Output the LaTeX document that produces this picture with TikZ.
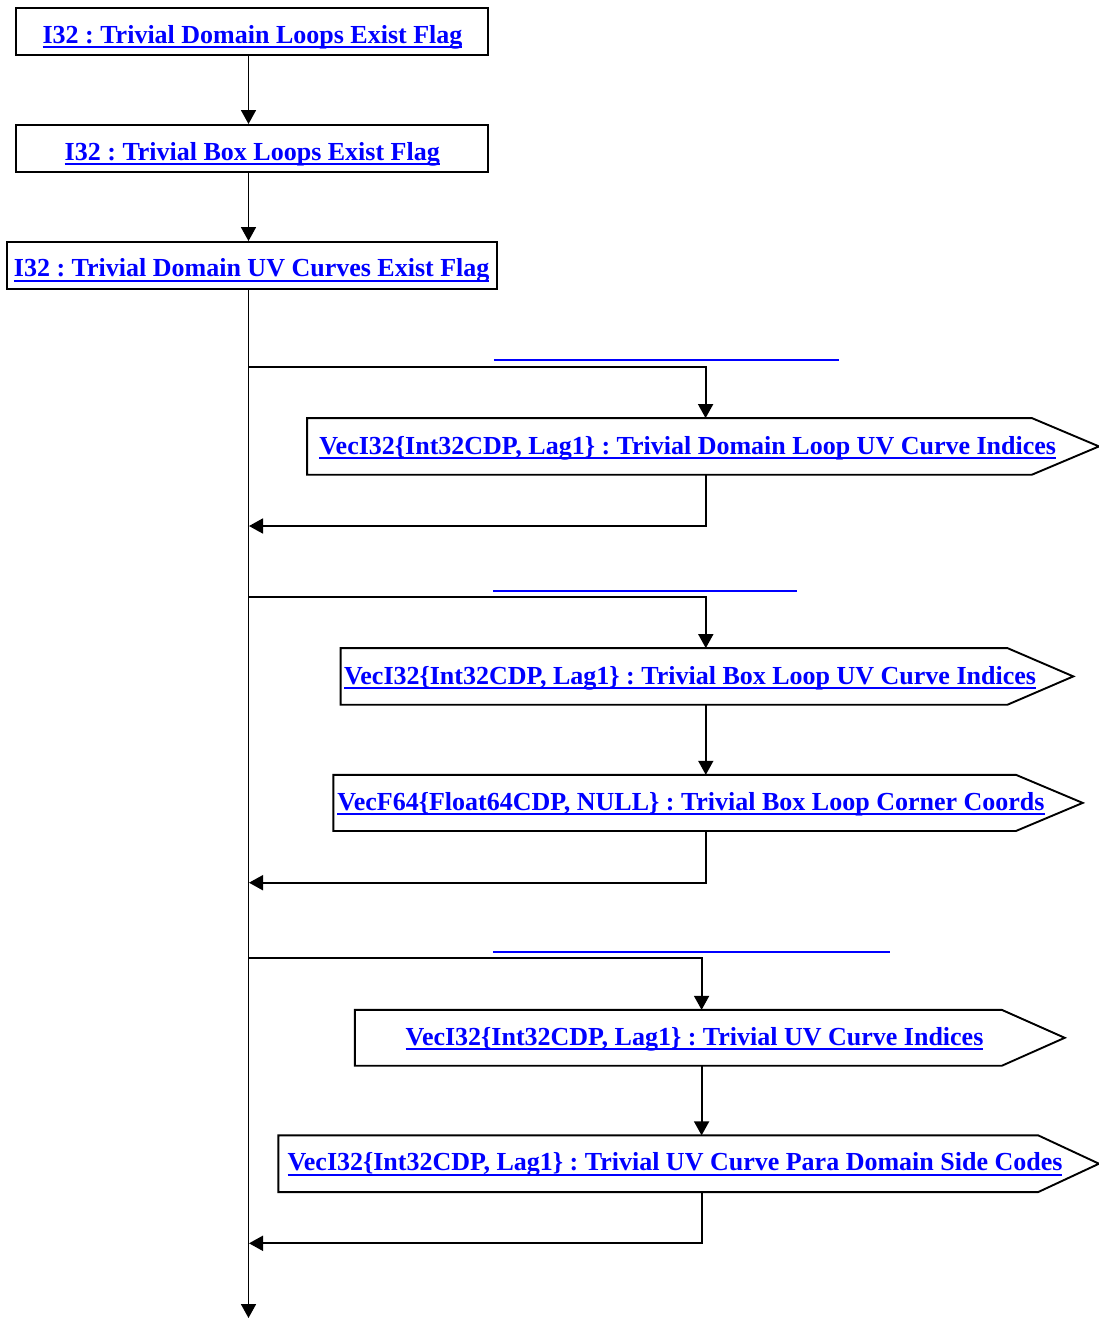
\documentclass[tikz,border=0pt]{standalone}
\usepackage{fontspec}
\setmainfont{Liberation Serif}
\usetikzlibrary{arrows.meta,calc}
\definecolor{lnk}{RGB}{0,0,255}
\frenchspacing
\newsavebox{\ulbox}
\newcommand{\ulink}[1]{\sbox{\ulbox}{#1}\rlap{\raisebox{-4.9pt}{\rule{\wd\ulbox}{2.1pt}}}\usebox{\ulbox}}
\begin{document}
\begin{tikzpicture}[x=1pt,y=-1pt,
  box/.style={draw=black,line width=1.9pt,rectangle,inner sep=0pt,fill=white},
  pshape/.style={draw=black,line width=1.9pt,line join=miter},
  holder/.style={rectangle,inner sep=0pt,draw=none},
  lbl/.style={inner sep=0pt,anchor=base,text=lnk,font=\fontsize{26}{30}\selectfont\bfseries},
  conn/.style={draw=black,line width=1.8pt},
  arr/.style={conn,-{Triangle[length=14pt,width=15pt]}},
  blank/.style={draw=lnk,line width=2.1pt}]
\useasboundingbox (0,0) rectangle (1099,1318);

% top boxes
\node[box,minimum width=471.4pt,minimum height=47.6pt] (b1) at (252,31.5) {};
\node[box,minimum width=471.4pt,minimum height=47.3pt] (b2) at (252,148.6) {};
\node[box,minimum width=490pt,minimum height=47pt] (b3) at (251.7,265.5) {};
\node[lbl] (t1) at (252.5,43.3) {\ulink{I32 : Trivial Domain Loops Exist Flag}};
\node[lbl] (t2) at (252.3,160) {\ulink{I32 : Trivial Box Loops Exist Flag}};
\node[lbl] (t3) at (251.7,276.7) {\ulink{I32 : Trivial Domain UV Curves Exist Flag}};

% trunk coordinates
\coordinate (m) at (248.5,0);
\coordinate (trunkend) at (248.5,1318);
\coordinate (x1) at (705.6,0);
\coordinate (x2) at (705.8,0);
\coordinate (x3) at (701.6,0);

% pentagons (rectangle part as holder nodes)
\node[holder,minimum width=724.4pt,minimum height=56.2pt] (p1) at (669.5,446.4) {};
\coordinate (p1tip) at (1099,446.4);
\node[holder,minimum width=666.5pt,minimum height=56.2pt] (p2) at (674.05,676.4) {};
\coordinate (p2tip) at (1073.3,676.4);
\node[holder,minimum width=682.2pt,minimum height=55.8pt] (p3) at (674.6,802.9) {};
\coordinate (p3tip) at (1082.7,802.9);
\node[holder,minimum width=646.6pt,minimum height=55.5pt] (p4) at (678.3,1037.8) {};
\coordinate (p4tip) at (1064.7,1037.8);
\node[holder,minimum width=759.5pt,minimum height=56.3pt] (p5) at (658.25,1163.7) {};
\coordinate (p5tip) at (1099,1163.7);
\foreach \p in {p1,p2,p3,p4,p5}{
  \draw[pshape] (\p.north west) -- (\p.north east) -- (\p tip) -- (\p.south east) -- (\p.south west) -- cycle;
}
\node[lbl] (tp1) at (687.7,454) {\ulink{VecI32\{Int32CDP, Lag1\} : Trivial Domain Loop UV Curve Indices}};
\node[lbl] (tp2) at (690,684.3) {\ulink{VecI32\{Int32CDP, Lag1\} : Trivial Box Loop UV Curve Indices}};
\node[lbl] (tp3) at (691,810) {\ulink{VecF64\{Float64CDP, NULL\} : Trivial Box Loop Corner Coords}};
\node[lbl] (tp4) at (694.5,1045) {\ulink{VecI32\{Int32CDP, Lag1\} : Trivial UV Curve Indices}};
\node[lbl] (tp5) at (675,1170.7) {\ulink{VecI32\{Int32CDP, Lag1\} : Trivial UV Curve Para Domain Side Codes}};

% connectors between top boxes and trunk
\draw[arr] (b1.south -| m) -- (b2.north -| m);
\draw[arr] (b2.south -| m) -- (b3.north -| m);
\draw[arr] (b3.south -| m) -- (trunkend);

% branch 1
\coordinate (j1) at (248.5,367);
\coordinate (r1) at (249,526);
\draw[arr] (j1) -| (p1.north -| x1);
\draw[arr] (p1.south -| x1) |- (r1);
\coordinate (u1a) at (493.8,360);
\coordinate (u1b) at (838.8,360);
\draw[blank] (u1a) -- (u1b);

% branch 2
\coordinate (j2) at (248.5,597.3);
\coordinate (r2) at (249,882.7);
\draw[arr] (j2) -| (p2.north -| x2);
\draw[arr] (p2.south -| x2) -- (p3.north -| x2);
\draw[arr] (p3.south -| x2) |- (r2);
\coordinate (u2a) at (493,590.7);
\coordinate (u2b) at (797,590.7);
\draw[blank] (u2a) -- (u2b);

% branch 3
\coordinate (j3) at (248.5,958);
\coordinate (r3) at (249,1243.3);
\draw[arr] (j3) -| (p4.north -| x3);
\draw[arr] (p4.south -| x3) -- (p5.north -| x3);
\draw[arr] (p5.south -| x3) |- (r3);
\coordinate (u3a) at (493,951.7);
\coordinate (u3b) at (890,951.7);
\draw[blank] (u3a) -- (u3b);
\end{tikzpicture}
\end{document}
